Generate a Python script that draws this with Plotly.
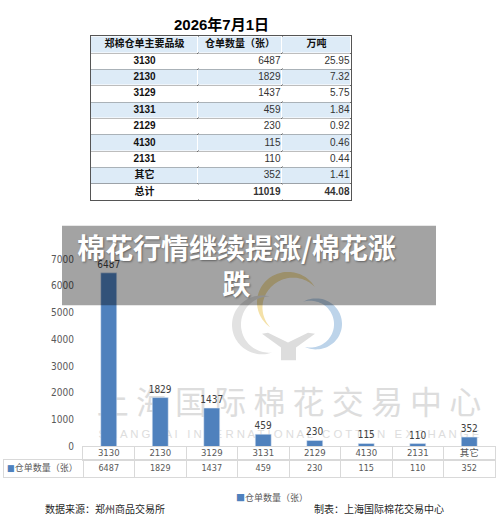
import numpy as np
import plotly.graph_objects as go

W, H = 500, 532

# data
report_date = "2026年7月1日"
grades = ["3130", "2130", "3129", "3131", "2129", "4130", "2131", "其它"]
receipts = [6487, 1829, 1437, 459, 230, 115, 110, 352]
tons = [25.95, 7.32, 5.75, 1.84, 0.92, 0.46, 0.44, 1.41]
total_label = "总计"
total_receipts = 11019
total_tons = 44.08
table_headers = ["郑棉仓单主要品级", "仓单数量（张）", "万吨"]
series_name = "仓单数量（张）"
y_ticks = [0, 1000, 2000, 3000, 4000, 5000, 6000, 7000]

BLUE = "#4F81BD"
LIGHT = "#DDEBF7"
GREY_TXT = "#595959"
NARROW = "Liberation Sans Narrow, DejaVu Sans Condensed, Liberation Sans, sans-serif"
CJK = "Noto Sans CJK SC, sans-serif"


def px(x):
    return x / W


def py(y):
    return 1 - y / H


def arc_path(cx, cy, r, a0, a1, wmax, n=60):
    # tapered arc (crescent) in page pixels -> paper path
    t = np.linspace(a0, a1, n)
    w = wmax * np.sin(np.pi * (t - a0) / (a1 - a0))
    rad = np.radians(t)
    outer = [(cx + r * np.cos(a), cy - r * np.sin(a)) for a in rad]
    inner = [(cx + (r - wi) * np.cos(a), cy - (r - wi) * np.sin(a)) for a, wi in zip(rad, w)]
    pts = outer + inner[::-1]
    return "M " + " L ".join(f"{px(x):.4f},{py(y):.4f}" for x, y in pts) + " Z"


def poly_path(pts):
    return "M " + " L ".join(f"{px(x):.4f},{py(y):.4f}" for x, y in pts) + " Z"


def text_trace(x, y, text, xa, ya, font, pos="middle center"):
    return go.Scatter(x=x, y=y, text=text, mode="text", textposition=pos, textfont=font,
                      hoverinfo="skip", cliponaxis=False, showlegend=False, xaxis=xa, yaxis=ya)


fig = go.Figure()

# ---- top table (x2 / y2, units are pixels) ----
col_edges = [0, 107, 191, 260]
n_rows = len(grades) + 1
row_edges = [0, 17] + [17 + 150 * (i + 1) / n_rows for i in range(n_rows)]
row_mid = [(a + b) / 2 for a, b in zip(row_edges[:-1], row_edges[1:])]
col_mid = [(a + b) / 2 for a, b in zip(col_edges[:-1], col_edges[1:])]

fill_z = [[1, 1, 1]] + [[i % 2] * 3 for i in range(n_rows)]
fig.add_trace(
    go.Heatmap(
        x=col_edges, y=row_edges, z=fill_z,
        colorscale=[[0, "white"], [1, LIGHT]], zmin=0, zmax=1,
        showscale=False, xgap=1, ygap=1, hoverinfo="skip",
        xaxis="x2", yaxis="y2",
    )
)
bold_font = dict(family="Liberation Sans, " + CJK, size=10, color="#111111")
num_font = dict(family="Liberation Sans", size=10, color="#333333")
fig.add_trace(text_trace(col_mid, [row_mid[0]] * 3, [f"<b>{h}</b>" for h in table_headers],
                         "x2", "y2", dict(family=CJK, size=10, color="#111111")))
fig.add_trace(text_trace([col_mid[0]] * n_rows, row_mid[1:],
                         [f"<b>{g}</b>" for g in grades] + [f"<b>{total_label}</b>"],
                         "x2", "y2", bold_font))
fig.add_trace(text_trace([col_edges[2] - 1.5] * n_rows, row_mid[1:],
                         [str(v) for v in receipts] + [f"<b>{total_receipts}</b>"],
                         "x2", "y2", num_font, "middle left"))
fig.add_trace(text_trace([col_edges[3] - 1.5] * n_rows, row_mid[1:],
                         [f"{v:.2f}" for v in tons] + [f"<b>{total_tons:.2f}</b>"],
                         "x2", "y2", num_font, "middle left"))

# ---- bar chart ----
fig.add_trace(
    go.Bar(
        x=grades,
        y=receipts,
        name=series_name,
        marker_color=BLUE,
        text=receipts,
        textposition="outside",
        constraintext="none",
        textfont=dict(family=NARROW, size=10, color="#404040"),
        cliponaxis=False,
        showlegend=False,
    )
)

# ---- data table under the chart ----
# category row: x3 / y3, value row: x4 / y4 (units are pixels)
cat_w = 51.5
cat_edges = [cat_w * i for i in range(len(grades) + 1)]
cat_mid = [cat_w * (i + 0.5) for i in range(len(grades))]
key_w = 79
small_font = dict(family=NARROW + ", " + CJK, size=9.5, color=GREY_TXT)
fig.add_trace(text_trace(cat_mid, [0.5] * len(grades), grades, "x3", "y3", small_font))
fig.add_trace(text_trace([3] + [key_w + m for m in cat_mid], [0.5] * (len(grades) + 1),
                         [f"<span style='color:{BLUE}'>■</span>{series_name}"] + [str(v) for v in receipts],
                         "x4", "y4", dict(family=NARROW + ", " + CJK, size=9, color=GREY_TXT),
                         ["middle right"] + ["middle center"] * len(grades)))

grid_dt = dict(showticklabels=False, showgrid=True, gridcolor="#D9D9D9", zeroline=False,
               showline=True, mirror=True, linecolor="#D9D9D9", linewidth=1, ticks="")
fig.update_layout(
    xaxis=dict(domain=[px(83), px(495)], anchor="y", showticklabels=False, showgrid=False,
               zeroline=False, showline=False),
    yaxis=dict(domain=[py(450), py(259)], anchor="x", range=[0, 7000], tickvals=y_ticks,
               showgrid=False, zeroline=False, showline=False, ticklabelstandoff=8,
               tickfont=dict(family=NARROW, size=10, color=GREY_TXT)),
    xaxis2=dict(domain=[px(91), px(351)], anchor="y2", range=[0, 260], tickvals=col_edges,
                showticklabels=False, showgrid=True, gridcolor="#6a6a6a", gridwidth=1,
                zeroline=False, showline=True, mirror=True, linecolor="#555555", linewidth=1),
    yaxis2=dict(domain=[py(199), py(32)], anchor="x2", range=[167, 0], tickvals=row_edges,
                showticklabels=False, showgrid=True, gridcolor="#6a6a6a", gridwidth=1,
                zeroline=False, showline=True, mirror=True, linecolor="#555555", linewidth=1),
    xaxis3=dict(domain=[px(83), px(495)], anchor="y3", range=[0, cat_edges[-1]],
                tickvals=cat_edges, **grid_dt),
    yaxis3=dict(domain=[py(464), py(450)], anchor="x3", range=[0, 1], showticklabels=False,
                showgrid=False, zeroline=False, showline=True, mirror=True, linecolor="#D9D9D9"),
    xaxis4=dict(domain=[px(4), px(495)], anchor="y4", range=[0, key_w + cat_edges[-1]],
                tickvals=[key_w + e for e in cat_edges], **grid_dt),
    yaxis4=dict(domain=[py(481), py(464)], anchor="x4", range=[0, 1], showticklabels=False,
                showgrid=False, zeroline=False, showline=True, mirror=True, linecolor="#D9D9D9"),
)

shapes = []
# logo (faded, behind the bars)
shapes.append(dict(type="path", xref="paper", yref="paper", layer="below",
                   path=arc_path(288, 303, 31, 30, 235, 8), fillcolor="#F4E1A8", line=dict(width=0)))
shapes.append(dict(type="path", xref="paper", yref="paper", layer="below",
                   path=arc_path(316, 325, 26, -115, 120, 8), fillcolor="#BDD4EA", line=dict(width=0)))
shapes.append(dict(type="path", xref="paper", yref="paper", layer="below",
                   path=arc_path(262, 326, 30, 75, 290, 9), fillcolor="#E2E2E2", line=dict(width=0)))
shapes.append(dict(type="path", xref="paper", yref="paper", layer="below",
                   path=poly_path([(262, 335), (268, 334), (288, 344), (308, 334), (315, 335),
                                   (296, 349), (296, 362), (281, 362), (281, 349)]),
                   fillcolor="#DDDDDD", line=dict(width=0)))
# watermark text
shapes.append(dict(type="rect", xref="paper", yref="paper", layer="below",
                   x0=px(88), x1=px(490), y0=py(425), y1=py(390), line=dict(width=0),
                   label=dict(text=" ".join("上海国际棉花交易中心"), textposition="middle center",
                              font=dict(family=CJK, size=32, color="#DDDDDD"))))
shapes.append(dict(type="rect", xref="paper", yref="paper", layer="below",
                   x0=px(88), x1=px(490), y0=py(442), y1=py(430), line=dict(width=0),
                   label=dict(text="   ".join(" ".join(w) for w in "SHANGHAI INTERNATIONAL COTTON EXCHANGE".split()),
                              textposition="middle center",
                              font=dict(family="Liberation Sans, sans-serif", size=11.4, color="#DDDDDD"))))
# grey banner on top
shapes.append(dict(type="rect", xref="paper", yref="paper", layer="above",
                   x0=px(62), x1=px(436), y0=py(306), y1=py(225),
                   fillcolor="rgba(0,0,0,0.36)", line=dict(width=0)))

annotations = [
    dict(text=f"<b>{report_date}</b>", x=px(221), y=py(20), xref="paper", yref="paper", showarrow=False,
         xanchor="center", yanchor="middle",
         font=dict(family="Liberation Sans, " + CJK, size=15, color="#000000")),
    dict(text="棉花行情继续提涨/棉花涨<br>跌", x=px(236), y=py(265), xref="paper", yref="paper",
         showarrow=False, align="center", xanchor="center", yanchor="middle",
         font=dict(family=CJK, size=28, color="white", weight="bold",
                   shadow="1px 1px 2px rgba(0,0,0,0.4)")),
    dict(text=f"<span style='color:{BLUE}'>■</span>{series_name}", x=px(234), y=py(502),
         xref="paper", yref="paper", xanchor="left", yanchor="middle", showarrow=False,
         font=dict(family=CJK, size=9, color=GREY_TXT)),
    dict(text="数据来源：郑州商品交易所", x=px(43), y=py(513), xref="paper", yref="paper",
         xanchor="left", yanchor="middle", showarrow=False,
         font=dict(family=CJK, size=10, color="#1f1f1f")),
    dict(text="制表：上海国际棉花交易中心", x=px(312), y=py(513), xref="paper", yref="paper",
         xanchor="left", yanchor="middle", showarrow=False,
         font=dict(family=CJK, size=10, color="#1f1f1f")),
]

fig.update_layout(
    width=W,
    height=H,
    autosize=False,
    margin=dict(l=0, r=0, t=0, b=0),
    paper_bgcolor="white",
    plot_bgcolor="rgba(0,0,0,0)",
    bargap=0.69,
    showlegend=False,
    shapes=shapes,
    annotations=annotations,
)

# drop the browser's default body margin so the figure sits at the page corner
fig.write_html(
    "out.html",
    config={"displayModeBar": False},
    post_script="document.body.style.margin='0';document.body.style.overflow='hidden';",
)
